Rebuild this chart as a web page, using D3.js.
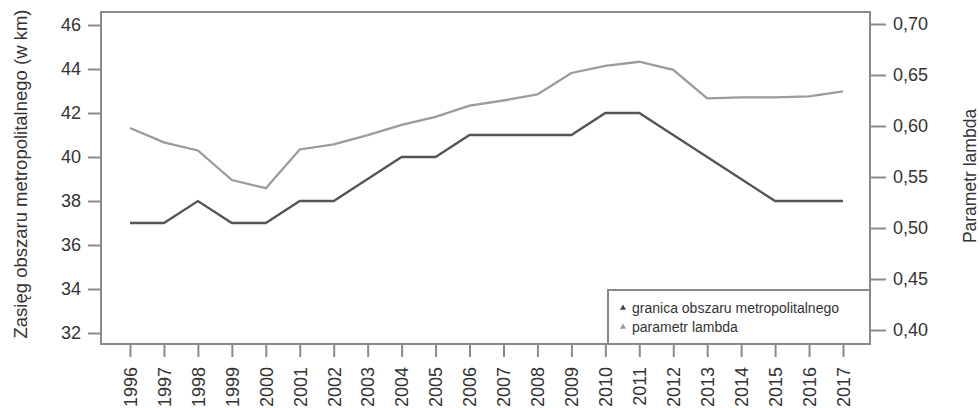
<!DOCTYPE html>
<html>
<head>
<meta charset="utf-8">
<script src="https://cdn.jsdelivr.net/npm/d3@7"></script>
<style>
  body { margin: 0; background: #fff; }
  svg text { font-family: "Liberation Sans Narrow", "Liberation Sans", Arial, sans-serif; fill: #333; }
</style>
</head>
<body>
<svg width="980" height="408"></svg>
<script>
// data
const years = [1996, 1997, 1998, 1999, 2000, 2001, 2002, 2003, 2004, 2005, 2006,
               2007, 2008, 2009, 2010, 2011, 2012, 2013, 2014, 2015, 2016, 2017];
const granica = [37, 37, 38, 37, 37, 38, 38, 39, 40, 40, 41,
                 41, 41, 41, 42, 42, 41, 40, 39, 38, 38, 38];
const lambda = [0.598, 0.584, 0.576, 0.547, 0.539, 0.577, 0.582, 0.591, 0.601, 0.609, 0.620,
                0.625, 0.631, 0.652, 0.659, 0.663, 0.655, 0.627, 0.628, 0.628, 0.629, 0.634];
const leftTicks = [32, 34, 36, 38, 40, 42, 44, 46];
const rightTicks = [0.40, 0.45, 0.50, 0.55, 0.60, 0.65, 0.70];
const seriesNames = ["granica obszaru metropolitalnego", "parametr lambda"];

const svg = d3.select("svg");
const frame = { left: 101, right: 870, top: 12, bottom: 344 };

// scales
const x = d3.scalePoint().domain(years).range([130, 843]);
const yL = d3.scaleLinear().domain([32, 46]).range([333, 25]);
const yR = d3.scaleLinear().domain([0.40, 0.70]).range([330, 24]);

const axisColor = "#8a8a8a";

// frame
svg.append("rect")
  .attr("x", frame.left).attr("y", frame.top)
  .attr("width", frame.right - frame.left).attr("height", frame.bottom - frame.top)
  .attr("fill", "none").attr("stroke", axisColor).attr("stroke-width", 2);

// left axis
const gL = svg.append("g").attr("transform", `translate(${frame.left},0)`)
  .call(d3.axisLeft(yL).tickValues(leftTicks).tickSize(13).tickPadding(7));
// right axis
const gR = svg.append("g").attr("transform", `translate(${frame.right},0)`)
  .call(d3.axisRight(yR).tickValues(rightTicks).tickSize(16).tickPadding(7)
    .tickFormat(d => d3.format(".2f")(d).replace(".", ",")));
// bottom axis
const gB = svg.append("g").attr("transform", `translate(0,${frame.bottom})`)
  .call(d3.axisBottom(x).tickSize(13).tickPadding(8));
gB.selectAll("text")
  .attr("transform", "rotate(-90)")
  .attr("text-anchor", "end")
  .attr("dy", "0.35em")
  .attr("x", -23).attr("y", 0);

[gL, gR, gB].forEach(g => {
  g.select(".domain").remove();
  g.selectAll(".tick line").attr("stroke", axisColor).attr("stroke-width", 2);
  g.selectAll("text").style("font-size", "18px").attr("fill", "#333");
});

// lines
const lineL = d3.line().x((d, i) => x(years[i])).y(d => yL(d));
const lineR = d3.line().x((d, i) => x(years[i])).y(d => yR(d));

svg.append("path").datum(lambda)
  .attr("d", lineR).attr("fill", "none")
  .attr("stroke", "#9b9b9b").attr("stroke-width", 2.3);
svg.append("path").datum(granica)
  .attr("d", lineL).attr("fill", "none")
  .attr("stroke", "#555").attr("stroke-width", 2.3);

// axis titles
svg.append("text")
  .attr("transform", "translate(27,174) rotate(-90)")
  .attr("text-anchor", "middle")
  .style("font-size", "18.5px")
  .text("Zasięg obszaru metropolitalnego (w km)");
svg.append("text")
  .attr("transform", "translate(976,176) rotate(-90)")
  .attr("text-anchor", "middle")
  .style("font-size", "17.5px")
  .text("Parametr lambda");

// legend
const leg = svg.append("g");
leg.append("rect")
  .attr("x", 608).attr("y", 290).attr("width", frame.right - 608).attr("height", frame.bottom - 290)
  .attr("fill", "#fff").attr("stroke", axisColor).attr("stroke-width", 2);
const legColors = ["#444", "#999"];
seriesNames.forEach((name, i) => {
  const ly = 308 + i * 19;
  leg.append("path")
    .attr("d", d3.symbol().type(d3.symbolTriangle).size(16)())
    .attr("transform", `translate(623,${ly})`)
    .attr("fill", legColors[i]);
  leg.append("text")
    .attr("x", 632).attr("y", ly).attr("dy", "0.35em")
    .style("font-size", "14px")
    .text(name);
});
</script>
</body>
</html>
